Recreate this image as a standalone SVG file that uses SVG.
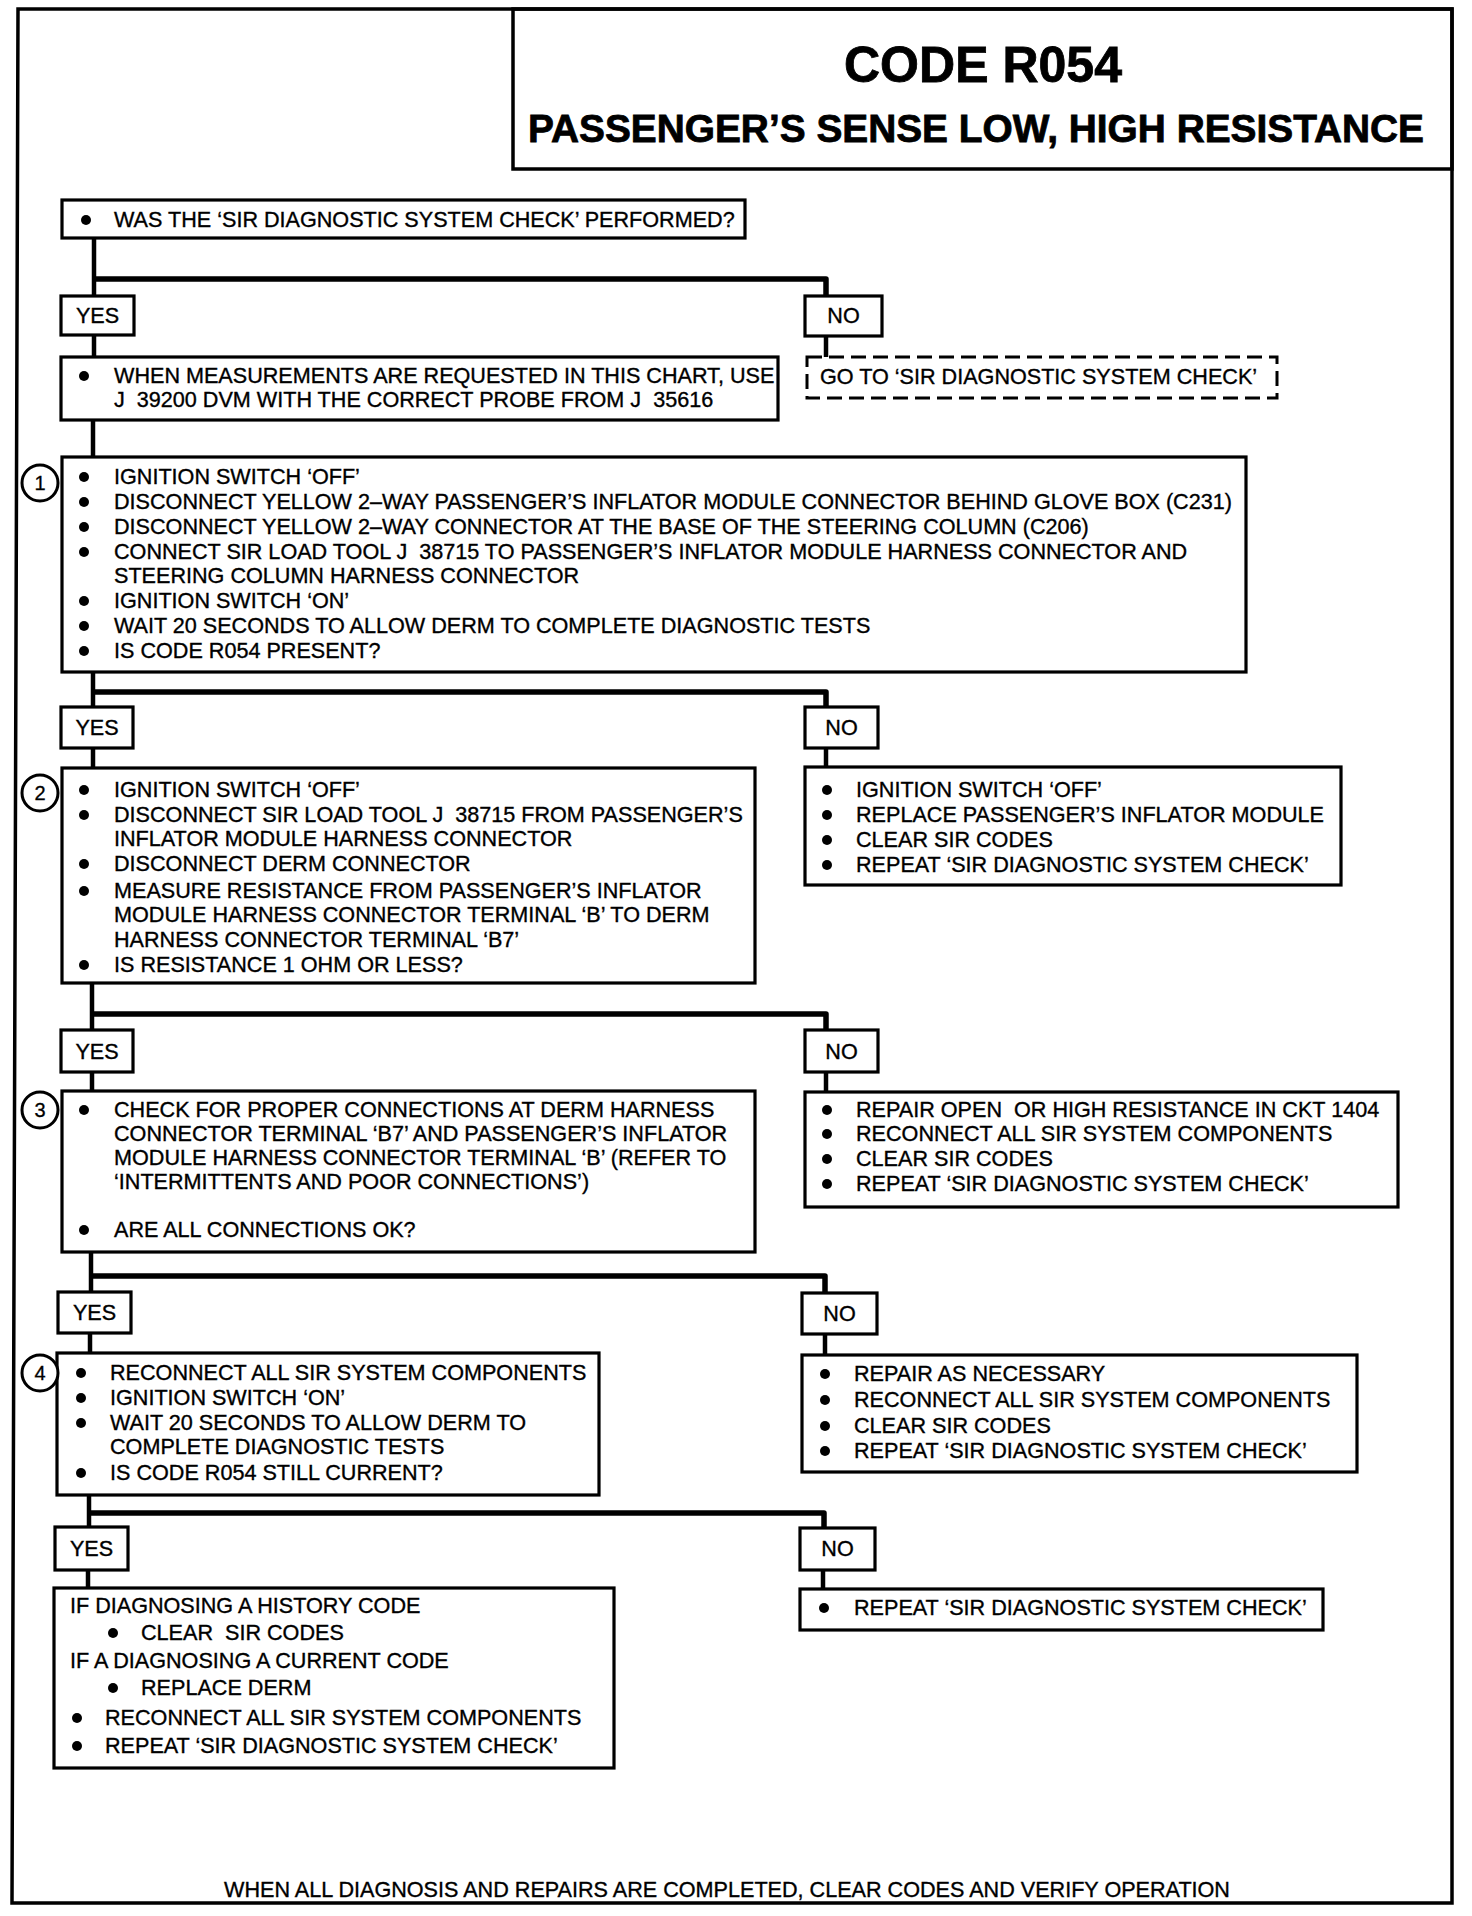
<svg xmlns="http://www.w3.org/2000/svg" width="1472" height="1916" viewBox="0 0 1472 1916">
<style>
.bg{fill:#fff}
.frame{fill:none;stroke:#000;stroke-width:3.5;stroke-linejoin:miter}
.box{fill:#fff;stroke:#000;stroke-width:3.2}
.dash{fill:#fff;stroke:#000;stroke-width:3;stroke-dasharray:15 7}
.t{font-family:"Liberation Sans",Arial,Helvetica,sans-serif;font-size:21.6px;fill:#000;stroke:#000;stroke-width:0.35;white-space:pre}
.lbl{font-family:"Liberation Sans",Arial,Helvetica,sans-serif;font-size:21.6px;fill:#000;stroke:#000;stroke-width:0.35;text-anchor:middle}
.h{font-family:"Liberation Sans",Arial,Helvetica,sans-serif;font-weight:bold;fill:#000;stroke:#000;stroke-width:0.8;text-anchor:middle}
.b{fill:#000}
.num{fill:#fff;stroke:#000;stroke-width:3}
.numt{font-family:"Liberation Sans",Arial,Helvetica,sans-serif;font-size:20px;fill:#000;stroke:#000;stroke-width:0.3;text-anchor:middle}
.v{fill:none;stroke:#000;stroke-width:4.5}
.hz{fill:none;stroke:#000;stroke-width:5.5;stroke-linejoin:round}
</style>
<rect class="bg" x="0" y="0" width="1472" height="1916"/>
<g id="frame">
<path class="frame" d="M18 9 H1452 V1903 H12 Z"/>
</g>
<g id="title">
<rect class="frame" x="513" y="9" width="939" height="160"/>
<text class="h" x="983" y="82" font-size="50" textLength="278" lengthAdjust="spacingAndGlyphs">CODE R054</text>
<text class="h" x="976" y="142" font-size="38.5" textLength="896" lengthAdjust="spacingAndGlyphs">PASSENGER’S SENSE LOW, HIGH RESISTANCE</text>
</g>

<g id="connectors">
<path class="v" d="M94 238 V296"/>
<path class="hz" d="M94 279 H826 V296"/>
<path class="v" d="M94 335 V357"/>
<path class="v" d="M826 336 V357"/>
<path class="v" d="M93 420 V457"/>
<path class="v" d="M93 672 V707"/>
<path class="hz" d="M93 692 H826 V707"/>
<path class="v" d="M93 748 V768"/>
<path class="v" d="M826 748 V767"/>
<path class="v" d="M92 983 V1030"/>
<path class="hz" d="M92 1014 H826 V1030"/>
<path class="v" d="M92 1072 V1091"/>
<path class="v" d="M826 1072 V1092"/>
<path class="v" d="M91 1252 V1292"/>
<path class="hz" d="M91 1276 H825 V1293"/>
<path class="v" d="M90 1333 V1353"/>
<path class="v" d="M825 1334 V1355"/>
<path class="v" d="M89 1495 V1527"/>
<path class="hz" d="M89 1513 H824 V1528"/>
<path class="v" d="M88 1570 V1588"/>
<path class="v" d="M823 1570 V1589"/>
</g>

<g id="nodeA">
<rect class="box" x="62" y="200" width="683" height="38"/>
<circle class="b" cx="86" cy="220" r="5"/>
<text class="t" x="114" y="227">WAS THE ‘SIR DIAGNOSTIC SYSTEM CHECK’ PERFORMED?</text>
</g>

<g id="yes1"><rect class="box" x="61" y="296" width="73" height="39"/><text class="lbl" x="97.5" y="323">YES</text></g>
<g id="no1"><rect class="box" x="805" y="296" width="77" height="40"/><text class="lbl" x="843.5" y="323">NO</text></g>

<g id="nodeB">
<rect class="box" x="61" y="357" width="717" height="63"/>
<circle class="b" cx="84" cy="376" r="5"/>
<text class="t" x="114" y="383">WHEN MEASUREMENTS ARE REQUESTED IN THIS CHART, USE</text>
<text class="t" x="114" y="407">J  39200 DVM WITH THE CORRECT PROBE FROM J  35616</text>
</g>

<g id="nodeGoTo">
<rect class="dash" x="807" y="357" width="470" height="41"/>
<text class="t" x="820" y="384">GO TO ‘SIR DIAGNOSTIC SYSTEM CHECK’</text>
</g>

<g id="step1">
<rect class="box" x="62" y="457" width="1184" height="215"/>
<circle class="num" cx="40" cy="483" r="18"/>
<text class="numt" x="40" y="490">1</text>
<circle class="b" cx="84" cy="477" r="5"/>
<text class="t" x="114" y="484">IGNITION SWITCH ‘OFF’</text>
<circle class="b" cx="84" cy="502" r="5"/>
<text class="t" x="114" y="509">DISCONNECT YELLOW 2–WAY PASSENGER’S INFLATOR MODULE CONNECTOR BEHIND GLOVE BOX (C231)</text>
<circle class="b" cx="84" cy="527" r="5"/>
<text class="t" x="114" y="534">DISCONNECT YELLOW 2–WAY CONNECTOR AT THE BASE OF THE STEERING COLUMN (C206)</text>
<circle class="b" cx="84" cy="552" r="5"/>
<text class="t" x="114" y="559">CONNECT SIR LOAD TOOL J  38715 TO PASSENGER’S INFLATOR MODULE HARNESS CONNECTOR AND</text>
<text class="t" x="114" y="583">STEERING COLUMN HARNESS CONNECTOR</text>
<circle class="b" cx="84" cy="601" r="5"/>
<text class="t" x="114" y="608">IGNITION SWITCH ‘ON’</text>
<circle class="b" cx="84" cy="626" r="5"/>
<text class="t" x="114" y="633">WAIT 20 SECONDS TO ALLOW DERM TO COMPLETE DIAGNOSTIC TESTS</text>
<circle class="b" cx="84" cy="651" r="5"/>
<text class="t" x="114" y="658">IS CODE R054 PRESENT?</text>
</g>

<g id="yes2"><rect class="box" x="61" y="707" width="72" height="41"/><text class="lbl" x="97" y="735">YES</text></g>
<g id="no2"><rect class="box" x="805" y="707" width="73" height="41"/><text class="lbl" x="841.5" y="735">NO</text></g>

<g id="step2">
<rect class="box" x="62" y="768" width="693" height="215"/>
<circle class="num" cx="40" cy="793" r="18"/>
<text class="numt" x="40" y="800">2</text>
<circle class="b" cx="84" cy="790" r="5"/>
<text class="t" x="114" y="797">IGNITION SWITCH ‘OFF’</text>
<circle class="b" cx="84" cy="815" r="5"/>
<text class="t" x="114" y="822">DISCONNECT SIR LOAD TOOL J  38715 FROM PASSENGER’S</text>
<text class="t" x="114" y="846">INFLATOR MODULE HARNESS CONNECTOR</text>
<circle class="b" cx="84" cy="864" r="5"/>
<text class="t" x="114" y="871">DISCONNECT DERM CONNECTOR</text>
<circle class="b" cx="84" cy="891" r="5"/>
<text class="t" x="114" y="898">MEASURE RESISTANCE FROM PASSENGER’S INFLATOR</text>
<text class="t" x="114" y="922">MODULE HARNESS CONNECTOR TERMINAL ‘B’ TO DERM</text>
<text class="t" x="114" y="947">HARNESS CONNECTOR TERMINAL ‘B7’</text>
<circle class="b" cx="84" cy="965" r="5"/>
<text class="t" x="114" y="972">IS RESISTANCE 1 OHM OR LESS?</text>
</g>

<g id="step2no">
<rect class="box" x="805" y="767" width="536" height="118"/>
<circle class="b" cx="827" cy="790" r="5"/>
<text class="t" x="856" y="797">IGNITION SWITCH ‘OFF’</text>
<circle class="b" cx="827" cy="815" r="5"/>
<text class="t" x="856" y="822">REPLACE PASSENGER’S INFLATOR MODULE</text>
<circle class="b" cx="827" cy="840" r="5"/>
<text class="t" x="856" y="847">CLEAR SIR CODES</text>
<circle class="b" cx="827" cy="865" r="5"/>
<text class="t" x="856" y="872">REPEAT ‘SIR DIAGNOSTIC SYSTEM CHECK’</text>
</g>

<g id="yes3"><rect class="box" x="61" y="1030" width="72" height="42"/><text class="lbl" x="97" y="1059">YES</text></g>
<g id="no3"><rect class="box" x="805" y="1030" width="73" height="42"/><text class="lbl" x="841.5" y="1059">NO</text></g>

<g id="step3">
<rect class="box" x="62" y="1091" width="693" height="161"/>
<circle class="num" cx="40" cy="1110" r="18"/>
<text class="numt" x="40" y="1117">3</text>
<circle class="b" cx="84" cy="1110" r="5"/>
<text class="t" x="114" y="1117">CHECK FOR PROPER CONNECTIONS AT DERM HARNESS</text>
<text class="t" x="114" y="1141">CONNECTOR TERMINAL ‘B7’ AND PASSENGER’S INFLATOR</text>
<text class="t" x="114" y="1165">MODULE HARNESS CONNECTOR TERMINAL ‘B’ (REFER TO</text>
<text class="t" x="114" y="1189">‘INTERMITTENTS AND POOR CONNECTIONS’)</text>
<circle class="b" cx="84" cy="1230" r="5"/>
<text class="t" x="114" y="1237">ARE ALL CONNECTIONS OK?</text>
</g>

<g id="step3no">
<rect class="box" x="805" y="1092" width="593" height="115"/>
<circle class="b" cx="827" cy="1110" r="5"/>
<text class="t" x="856" y="1117">REPAIR OPEN  OR HIGH RESISTANCE IN CKT 1404</text>
<circle class="b" cx="827" cy="1134" r="5"/>
<text class="t" x="856" y="1141">RECONNECT ALL SIR SYSTEM COMPONENTS</text>
<circle class="b" cx="827" cy="1159" r="5"/>
<text class="t" x="856" y="1166">CLEAR SIR CODES</text>
<circle class="b" cx="827" cy="1184" r="5"/>
<text class="t" x="856" y="1191">REPEAT ‘SIR DIAGNOSTIC SYSTEM CHECK’</text>
</g>

<g id="yes4"><rect class="box" x="58" y="1292" width="73" height="41"/><text class="lbl" x="94.5" y="1320">YES</text></g>
<g id="no4"><rect class="box" x="802" y="1293" width="75" height="41"/><text class="lbl" x="839.5" y="1321">NO</text></g>

<g id="step4">
<rect class="box" x="57" y="1353" width="542" height="142"/>
<circle class="num" cx="40" cy="1373" r="18"/>
<text class="numt" x="40" y="1380">4</text>
<circle class="b" cx="81" cy="1373" r="5"/>
<text class="t" x="110" y="1380">RECONNECT ALL SIR SYSTEM COMPONENTS</text>
<circle class="b" cx="81" cy="1398" r="5"/>
<text class="t" x="110" y="1405">IGNITION SWITCH ‘ON’</text>
<circle class="b" cx="81" cy="1423" r="5"/>
<text class="t" x="110" y="1430">WAIT 20 SECONDS TO ALLOW DERM TO</text>
<text class="t" x="110" y="1454">COMPLETE DIAGNOSTIC TESTS</text>
<circle class="b" cx="81" cy="1473" r="5"/>
<text class="t" x="110" y="1480">IS CODE R054 STILL CURRENT?</text>
</g>

<g id="step4no">
<rect class="box" x="802" y="1355" width="555" height="117"/>
<circle class="b" cx="825" cy="1374" r="5"/>
<text class="t" x="854" y="1381">REPAIR AS NECESSARY</text>
<circle class="b" cx="825" cy="1400" r="5"/>
<text class="t" x="854" y="1407">RECONNECT ALL SIR SYSTEM COMPONENTS</text>
<circle class="b" cx="825" cy="1426" r="5"/>
<text class="t" x="854" y="1433">CLEAR SIR CODES</text>
<circle class="b" cx="825" cy="1451" r="5"/>
<text class="t" x="854" y="1458">REPEAT ‘SIR DIAGNOSTIC SYSTEM CHECK’</text>
</g>

<g id="yes5"><rect class="box" x="55" y="1527" width="73" height="43"/><text class="lbl" x="91.5" y="1556">YES</text></g>
<g id="no5"><rect class="box" x="800" y="1528" width="75" height="42"/><text class="lbl" x="837.5" y="1556">NO</text></g>

<g id="step5">
<rect class="box" x="54" y="1588" width="560" height="180"/>
<text class="t" x="70" y="1613">IF DIAGNOSING A HISTORY CODE</text>
<circle class="b" cx="113" cy="1633" r="5"/>
<text class="t" x="141" y="1640">CLEAR  SIR CODES</text>
<text class="t" x="70" y="1668">IF A DIAGNOSING A CURRENT CODE</text>
<circle class="b" cx="113" cy="1688" r="5"/>
<text class="t" x="141" y="1695">REPLACE DERM</text>
<circle class="b" cx="77" cy="1718" r="5"/>
<text class="t" x="105" y="1725">RECONNECT ALL SIR SYSTEM COMPONENTS</text>
<circle class="b" cx="77" cy="1746" r="5"/>
<text class="t" x="105" y="1753">REPEAT ‘SIR DIAGNOSTIC SYSTEM CHECK’</text>
</g>

<g id="step5no">
<rect class="box" x="800" y="1589" width="523" height="41"/>
<circle class="b" cx="824" cy="1608" r="5"/>
<text class="t" x="854" y="1615">REPEAT ‘SIR DIAGNOSTIC SYSTEM CHECK’</text>
</g>

<g id="footer">
<text class="t" x="727" y="1897" text-anchor="middle">WHEN ALL DIAGNOSIS AND REPAIRS ARE COMPLETED, CLEAR CODES AND VERIFY OPERATION</text>
</g>
</svg>
